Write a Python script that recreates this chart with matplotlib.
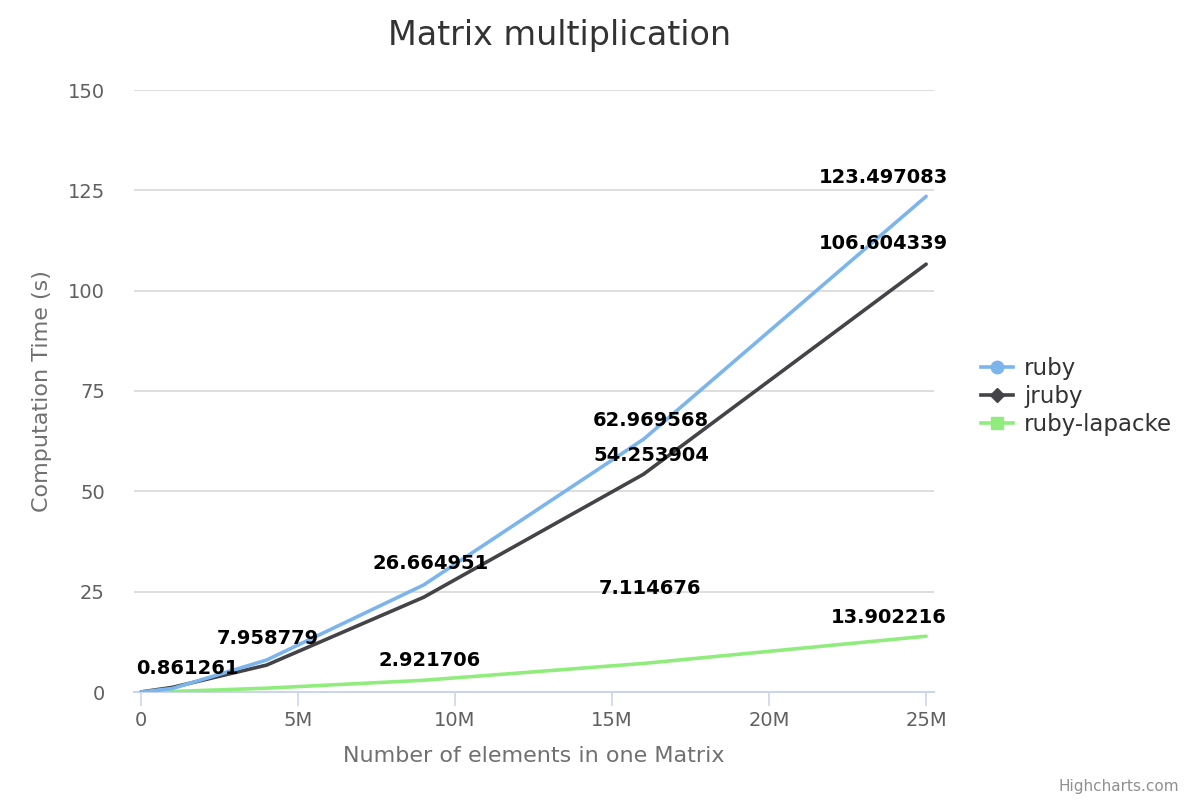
import matplotlib
matplotlib.use("Agg")
import matplotlib.pyplot as plt
from matplotlib.ticker import FuncFormatter, MultipleLocator

# Matrix sizes (number of elements) and timings in seconds
elements = [10000, 1000000, 4000000, 9000000, 16000000, 25000000]
ruby = [0.01, 0.861261, 7.958779, 26.664951, 62.969568, 123.497083]
jruby = [0.02, 1.15, 6.7, 23.6, 54.253904, 106.604339]
lapacke = [0.0, 0.12, 0.95, 2.921706, 7.114676, 13.902216]

series_names = ["ruby", "jruby", "ruby-lapacke"]
colours = ["#7cb5ec", "#434348", "#90ed7d"]
markers = ["o", "D", "s"]

# which points get a visible data label (index), plus pixel offset of the label
shown_labels = [
    [1, 2, 3, 4, 5],
    [4, 5],
    [3, 4, 5],
]
label_offsets = {
    (0, 1): (15, 20), (0, 2): (1, 22), (0, 3): (7, 21), (0, 4): (7, 19), (0, 5): (-43, 19),
    (1, 4): (8, 19), (1, 5): (-43, 21),
    (2, 3): (6, 20), (2, 4): (7, 75), (2, 5): (-37, 19),
}

fig = plt.figure(figsize=(12, 8), dpi=100)
ax = fig.add_axes([134/1200, 108/800, 800/1200, 602/800])

all_series = [ruby, jruby, lapacke]
for i, data in enumerate(all_series):
    ax.plot(elements, data, color=colours[i], lw=2.6, solid_capstyle="round",
            solid_joinstyle="round", zorder=3 - i * 0.1)
    for j in shown_labels[i]:
        dx, dy = label_offsets[(i, j)]
        ax.annotate(str(data[j]), xy=(elements[j], data[j]), xytext=(dx, dy),
                    textcoords="offset pixels", ha="center", va="center",
                    fontsize=14, fontweight="bold", color="black", zorder=5)

ax.set_xlim(-0.22e6, 25.25e6)
ax.set_ylim(0, 150)
ax.yaxis.set_major_locator(MultipleLocator(25))
ax.xaxis.set_major_locator(MultipleLocator(5e6))
ax.xaxis.set_major_formatter(FuncFormatter(lambda v, p: "0" if v == 0 else f"{int(v/1e6)}M"))

ax.grid(axis="y", color="#d8d8d8", lw=1.2)
ax.set_axisbelow(True)
for s in ["top", "right", "left"]:
    ax.spines[s].set_visible(False)
ax.spines["bottom"].set_color("#ccd6eb")
ax.spines["bottom"].set_linewidth(1.5)
ax.tick_params(axis="y", length=0, pad=21, labelsize=14, labelcolor="#606060")
ax.tick_params(axis="x", length=10, width=1.2, color="#ccd6eb", pad=4,
               labelsize=14, labelcolor="#606060")

ax.set_xlabel("Number of elements in one Matrix", fontsize=16, color="#707070", labelpad=11)
ax.set_ylabel("Computation Time (s)", fontsize=16, color="#707070", labelpad=11)

fig.text(0.466, 0.955, "Matrix multiplication", ha="center", va="center",
         fontsize=24, color="#333333")

handles = [plt.Line2D([], [], color=colours[i], lw=2.6, marker=markers[i],
                      markersize=9 if i != 1 else 7) for i in range(3)]
leg = fig.legend(handles, series_names, loc="center left", bbox_to_anchor=(0.8, 0.504),
                 frameon=False, fontsize=16.5, handlelength=1.4, handletextpad=0.5,
                 labelspacing=0.22, labelcolor="#333333")

fig.text(0.983, 0.017, "Highcharts.com", ha="right", va="center", fontsize=11, color="#909090")

fig.savefig("out.png", dpi=100)
